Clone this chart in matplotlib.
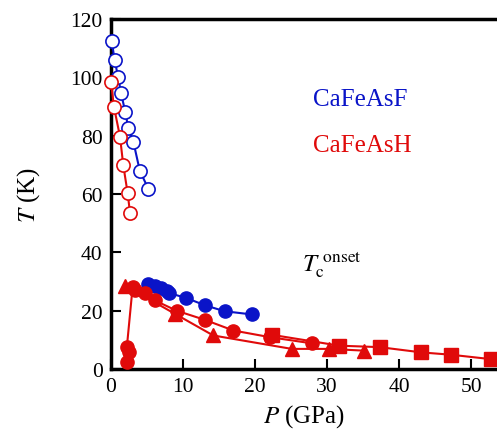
import matplotlib
matplotlib.use("Agg")
import matplotlib.pyplot as plt

# CaFeAsF structural/magnetic transition (open blue circles)
f_ts_p = [0.1, 0.5, 1.0, 1.4, 2.0, 2.4, 3.1, 4.0, 5.2]
f_ts_t = [112.5, 106, 100, 94.5, 88, 82.5, 78, 68, 61.7]
# CaFeAsH transition (open red circles)
h_ts_p = [0.0, 0.4, 1.25, 1.7, 2.3, 2.65]
h_ts_t = [98.5, 90, 79.7, 70, 60.5, 53.5]
# CaFeAsF Tc onset (filled blue circles)
f_tc_p = [5.2, 6.1, 6.9, 7.8, 8.1, 10.4, 13.1, 15.8, 19.6]
f_tc_t = [29.2, 28.4, 27.7, 26.9, 26.0, 24.4, 21.8, 19.8, 18.7]
# CaFeAsH Tc onset (filled red circles)
h_tc_p = [2.2, 2.5, 2.2, 3.0, 3.3, 4.7, 6.1, 9.1, 13.1, 17.0, 22.1, 27.9]
h_tc_t = [2.5, 6.0, 7.4, 28.0, 27.0, 26.0, 23.5, 20.0, 16.8, 13.2, 10.9, 8.8]
# CaFeAsH Tc onset (filled red triangles)
h_tri_p = [1.95, 8.9, 14.2, 25.1, 30.3, 35.1]
h_tri_t = [28.6, 18.9, 11.5, 6.9, 6.9, 6.3]
# CaFeAsH Tc onset (filled red squares)
h_sq_p = [22.4, 31.7, 37.3, 43.1, 47.2, 52.7]
h_sq_t = [11.7, 8.0, 7.5, 5.7, 4.9, 3.4]

xticks = [0, 10, 20, 30, 40, 50]
yticks = [0, 20, 40, 60, 80, 100, 120]

blue = "#0a14c8"
red = "#e00a0a"

plt.rcParams['font.family'] = ['Liberation Serif', 'DejaVu Serif']
plt.rcParams['mathtext.fontset'] = 'stix'

fig = plt.figure(figsize=(4.97, 4.31), dpi=100)
ax = fig.add_axes([0.2233, 0.1415, 0.7767, 0.8121])

ms = 9.5
lw = 1.5
ax.plot(f_ts_p, f_ts_t, '-o', color=blue, mfc='white', mec=blue, ms=ms, lw=lw, mew=1.2, clip_on=False, zorder=3)
ax.plot(h_ts_p, h_ts_t, '-o', color=red, mfc='white', mec=red, ms=ms, lw=lw, mew=1.2, clip_on=False, zorder=3)
ax.plot(f_tc_p, f_tc_t, '-o', color=blue, ms=ms, lw=lw, clip_on=False, zorder=3)
ax.plot(h_tri_p, h_tri_t, '-^', color=red, ms=ms, lw=lw, clip_on=False, zorder=3)
ax.plot(h_tc_p, h_tc_t, '-o', color=red, ms=ms, lw=lw, clip_on=False, zorder=3)
ax.plot(h_sq_p, h_sq_t, '-s', color=red, ms=ms, lw=lw, clip_on=False, zorder=3)

ax.set_xlim(0, 53.6)
ax.set_ylim(0, 120)
ax.set_xticks(xticks)
ax.set_yticks(yticks)
ax.tick_params(direction='in', length=7, width=1.5, labelsize=15.5, pad=6, top=False, right=False)
for s in ['left', 'bottom', 'top']:
    ax.spines[s].set_linewidth(2.5)
ax.spines['right'].set_visible(False)

ax.set_xlabel(r'$P$ (GPa)', fontsize=18, labelpad=4)
ax.set_ylabel(r'$T$ (K)', fontsize=18, labelpad=20)

ax.text(28.1, 92.5, 'CaFeAsF', color=blue, fontsize=18, va='center')
ax.text(28.1, 76.7, 'CaFeAsH', color=red, fontsize=18, va='center')
ax.text(26.5, 36, r'$T_{\mathrm{c}}^{\ \mathrm{onset}}$', fontsize=18, va='center')

fig.savefig('out.png', dpi=100)
